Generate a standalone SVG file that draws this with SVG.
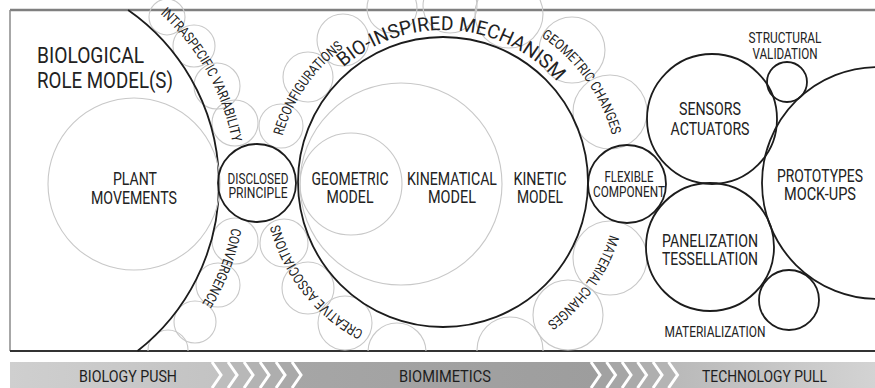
<svg xmlns="http://www.w3.org/2000/svg" width="875" height="388" viewBox="0 0 875 388">
<style>
.bub{fill:none;stroke:#c8c8c8;stroke-width:1.1}
.blk{fill:none;stroke:#1c1c1c;stroke-width:1.8}
text{font-family:Roboto,"Liberation Sans",sans-serif;fill:#222;font-weight:400}
.lbl{font-size:17.5px;text-anchor:middle}
.sm{font-size:14px;text-anchor:middle}
.arc{font-size:14px}
.big{font-size:22.5px}
.bar{font-size:16.5px;text-anchor:middle;fill:#1e1e1e}
.chev{fill:none;stroke:#fff;stroke-width:3}
</style>
<defs>
<clipPath id="bottomClip"><rect x="0" y="-10" width="875" height="361"/></clipPath>
<linearGradient id="gL" gradientUnits="userSpaceOnUse" x1="10" y1="0" x2="220" y2="0"><stop offset="0" stop-color="#cfcfcf"/><stop offset="1" stop-color="#c3c3c3"/></linearGradient>
<linearGradient id="gM" gradientUnits="userSpaceOnUse" x1="292" y1="0" x2="600" y2="0"><stop offset="0" stop-color="#a6a6a6"/><stop offset="1" stop-color="#9d9d9d"/></linearGradient>
<linearGradient id="gR" gradientUnits="userSpaceOnUse" x1="670" y1="0" x2="875" y2="0"><stop offset="0" stop-color="#b9b9b9"/><stop offset="1" stop-color="#d3d3d3"/></linearGradient>
<path id="p1" d="M160.2,13.8 A229,229 0 0 1 233.8,152.1"/>
<path id="p2" d="M231.8,227.7 A229,229 0 0 1 182.4,331.2"/>
<path id="p3" d="M282.5,136 A167,167 0 0 1 359.5,37.4"/>
<path id="p4" d="M343.3,67.3 A152,152 0 0 1 567.5,94.8"/>
<path id="p5" d="M363.7,331.2 A169,169 0 0 1 276.6,211.3"/>
<path id="p6" d="M541.1,36.5 A175.5,175.5 0 0 1 615.8,151.5"/>
<path id="p7" d="M609.9,234.6 A175,175 0 0 1 530.5,333.6"/>
</defs>
<rect width="875" height="388" fill="#fff"/>

<g id="frame">
<line x1="10" y1="10" x2="875" y2="10" stroke="#7f7f7f" stroke-width="2.5"/>
<line x1="10" y1="10" x2="10" y2="351" stroke="#8a8a8a" stroke-width="1.5"/>
<line x1="10" y1="351" x2="875" y2="351" stroke="#333" stroke-width="2"/>
</g>

<g id="bubbles" class="bub" clip-path="url(#bottomClip)">
<circle cx="167" cy="17" r="18"/>
<circle cx="194" cy="46" r="21"/>
<circle cx="217" cy="86" r="23"/>
<circle cx="235" cy="123" r="23"/>
<circle cx="281" cy="126" r="22"/>
<circle cx="308" cy="77" r="25"/>
<circle cx="343" cy="40" r="26"/>
<circle cx="392" cy="8" r="25"/>
<circle cx="450" cy="6" r="27"/>
<circle cx="509" cy="14" r="34"/>
<circle cx="572" cy="50" r="33"/>
<circle cx="610" cy="112" r="37"/>
<circle cx="610" cy="258" r="37"/>
<circle cx="568" cy="315" r="35"/>
<circle cx="510" cy="350" r="33"/>
<circle cx="397" cy="352" r="29"/>
<circle cx="345" cy="323" r="27"/>
<circle cx="308" cy="288" r="26"/>
<circle cx="284" cy="243" r="24"/>
<circle cx="235" cy="241" r="23"/>
<circle cx="218" cy="285" r="22"/>
<circle cx="195" cy="322" r="21"/>
<circle cx="168" cy="350" r="20"/>
</g>

<g id="biological-role-models">
<path class="blk" d="M128.1,10 A212,212 0 0 1 137.5,351"/>
<text class="big" x="37" y="63" textLength="107" lengthAdjust="spacingAndGlyphs">BIOLOGICAL</text>
<text class="big" x="37" y="88" textLength="136" lengthAdjust="spacingAndGlyphs">ROLE MODEL(S)</text>
</g>

<g id="plant-movements">
<circle class="bub" cx="134" cy="184" r="86"/>
<text class="lbl" x="135" y="185" textLength="44" lengthAdjust="spacingAndGlyphs">PLANT</text>
<text class="lbl" x="134" y="204" textLength="86" lengthAdjust="spacingAndGlyphs">MOVEMENTS</text>
</g>

<g id="intraspecific-variability">
<text class="arc"><textPath href="#p1" textLength="150" lengthAdjust="spacingAndGlyphs">INTRASPECIFIC VARIABILITY</textPath></text>
</g>
<g id="convergence">
<text class="arc"><textPath href="#p2" textLength="82" lengthAdjust="spacingAndGlyphs">CONVERGENCE</textPath></text>
</g>

<g id="disclosed-principle">
<circle class="blk" cx="257" cy="183" r="39"/>
<text class="sm" x="258" y="184" textLength="61" lengthAdjust="spacingAndGlyphs">DISCLOSED</text>
<text class="sm" x="258" y="197.5" textLength="59" lengthAdjust="spacingAndGlyphs">PRINCIPLE</text>
</g>

<g id="reconfigurations">
<text class="arc"><textPath href="#p3" textLength="109" lengthAdjust="spacingAndGlyphs">RECONFIGURATIONS</textPath></text>
</g>
<g id="creative-associations">
<text class="arc"><textPath href="#p5" textLength="140" lengthAdjust="spacingAndGlyphs">CREATIVE ASSOCIATIONS</textPath></text>
</g>
<g id="geometric-changes">
<text class="arc"><textPath href="#p6" textLength="124" lengthAdjust="spacingAndGlyphs">GEOMETRIC CHANGES</textPath></text>
</g>
<g id="material-changes">
<text class="arc"><textPath href="#p7" textLength="110" lengthAdjust="spacingAndGlyphs">MATERIAL CHANGES</textPath></text>
</g>

<g id="bio-inspired-mechanism">
<circle class="blk" cx="443" cy="182" r="145"/>
<text style="font-size:19.5px"><textPath href="#p4" textLength="238" lengthAdjust="spacingAndGlyphs">BIO-INSPIRED MECHANISM</textPath></text>
</g>

<g id="kinematical-model">
<circle class="bub" cx="401" cy="184" r="101"/>
<text class="lbl" x="452" y="185" textLength="90" lengthAdjust="spacingAndGlyphs">KINEMATICAL</text>
<text class="lbl" x="452" y="203" textLength="48" lengthAdjust="spacingAndGlyphs">MODEL</text>
</g>
<g id="geometric-model">
<circle class="bub" cx="351" cy="184" r="51"/>
<text class="lbl" x="350" y="185" textLength="77" lengthAdjust="spacingAndGlyphs">GEOMETRIC</text>
<text class="lbl" x="350" y="203" textLength="47" lengthAdjust="spacingAndGlyphs">MODEL</text>
</g>
<g id="kinetic-model">
<text class="lbl" x="540" y="185" textLength="53" lengthAdjust="spacingAndGlyphs">KINETIC</text>
<text class="lbl" x="540" y="203" textLength="46" lengthAdjust="spacingAndGlyphs">MODEL</text>
</g>

<g id="flexible-component">
<circle class="blk" cx="627" cy="184" r="39"/>
<text class="sm" x="629" y="182" textLength="49" lengthAdjust="spacingAndGlyphs">FLEXIBLE</text>
<text class="sm" x="629" y="197" textLength="72" lengthAdjust="spacingAndGlyphs">COMPONENT</text>
</g>

<g id="sensors-actuators">
<circle class="blk" cx="712" cy="119" r="65"/>
<text class="lbl" x="710" y="115" textLength="62" lengthAdjust="spacingAndGlyphs">SENSORS</text>
<text class="lbl" x="710" y="135" textLength="79" lengthAdjust="spacingAndGlyphs">ACTUATORS</text>
</g>

<g id="panelization-tessellation">
<circle class="blk" cx="710" cy="247" r="64"/>
<text class="lbl" x="710" y="247" textLength="96" lengthAdjust="spacingAndGlyphs">PANELIZATION</text>
<text class="lbl" x="710" y="265" textLength="96" lengthAdjust="spacingAndGlyphs">TESSELLATION</text>
</g>

<g id="structural-validation">
<circle class="blk" cx="787" cy="82" r="20"/>
<text class="sm" x="785" y="43" textLength="73" lengthAdjust="spacingAndGlyphs">STRUCTURAL</text>
<text class="sm" x="785" y="59" textLength="65" lengthAdjust="spacingAndGlyphs">VALIDATION</text>
</g>

<g id="materialization">
<circle class="blk" cx="789" cy="300" r="30"/>
<text class="sm" x="715" y="337" textLength="101" lengthAdjust="spacingAndGlyphs">MATERIALIZATION</text>
</g>

<g id="prototypes-mockups">
<circle class="blk" cx="878" cy="183" r="116"/>
<text class="lbl" x="820" y="182" textLength="86" lengthAdjust="spacingAndGlyphs">PROTOTYPES</text>
<text class="lbl" x="820" y="200" textLength="72" lengthAdjust="spacingAndGlyphs">MOCK-UPS</text>
</g>

<g id="connectors"></g>

<g id="process-bar">
<rect x="10" y="362" width="865" height="26" fill="url(#gR)"/>
<polygon points="10,362 668.5,362 677.5,375 668.5,388 10,388" fill="#b4b4b4"/>
<polygon points="10,362 653,362 662,375 653,388 10,388" fill="#afafaf"/>
<polygon points="10,362 637.5,362 646.5,375 637.5,388 10,388" fill="#aaaaaa"/>
<polygon points="10,362 622,362 631,375 622,388 10,388" fill="#a6a6a6"/>
<polygon points="10,362 606.5,362 615.5,375 606.5,388 10,388" fill="#a2a2a2"/>
<polygon points="10,362 591,362 600,375 591,388 10,388" fill="url(#gM)"/>
<polygon points="10,362 292,362 301,375 292,388 10,388" fill="#a9a9a9"/>
<polygon points="10,362 276,362 285,375 276,388 10,388" fill="#aeaeae"/>
<polygon points="10,362 260,362 269,375 260,388 10,388" fill="#b3b3b3"/>
<polygon points="10,362 244,362 253,375 244,388 10,388" fill="#b8b8b8"/>
<polygon points="10,362 228,362 237,375 228,388 10,388" fill="#bdbdbd"/>
<polygon points="10,362 212,362 221,375 212,388 10,388" fill="url(#gL)"/>
<g class="chev">
<polyline points="212,362 221,375 212,388"/>
<polyline points="228,362 237,375 228,388"/>
<polyline points="244,362 253,375 244,388"/>
<polyline points="260,362 269,375 260,388"/>
<polyline points="276,362 285,375 276,388"/>
<polyline points="292,362 301,375 292,388"/>
<polyline points="591,362 600,375 591,388"/>
<polyline points="606.5,362 615.5,375 606.5,388"/>
<polyline points="622,362 631,375 622,388"/>
<polyline points="637.5,362 646.5,375 637.5,388"/>
<polyline points="653,362 662,375 653,388"/>
<polyline points="668.5,362 677.5,375 668.5,388"/>
</g>
<text class="bar" x="128" y="382" textLength="98" lengthAdjust="spacingAndGlyphs">BIOLOGY PUSH</text>
<text class="bar" x="445" y="382" textLength="92" lengthAdjust="spacingAndGlyphs">BIOMIMETICS</text>
<text class="bar" x="764.5" y="382" textLength="125" lengthAdjust="spacingAndGlyphs">TECHNOLOGY PULL</text>
</g>
</svg>
